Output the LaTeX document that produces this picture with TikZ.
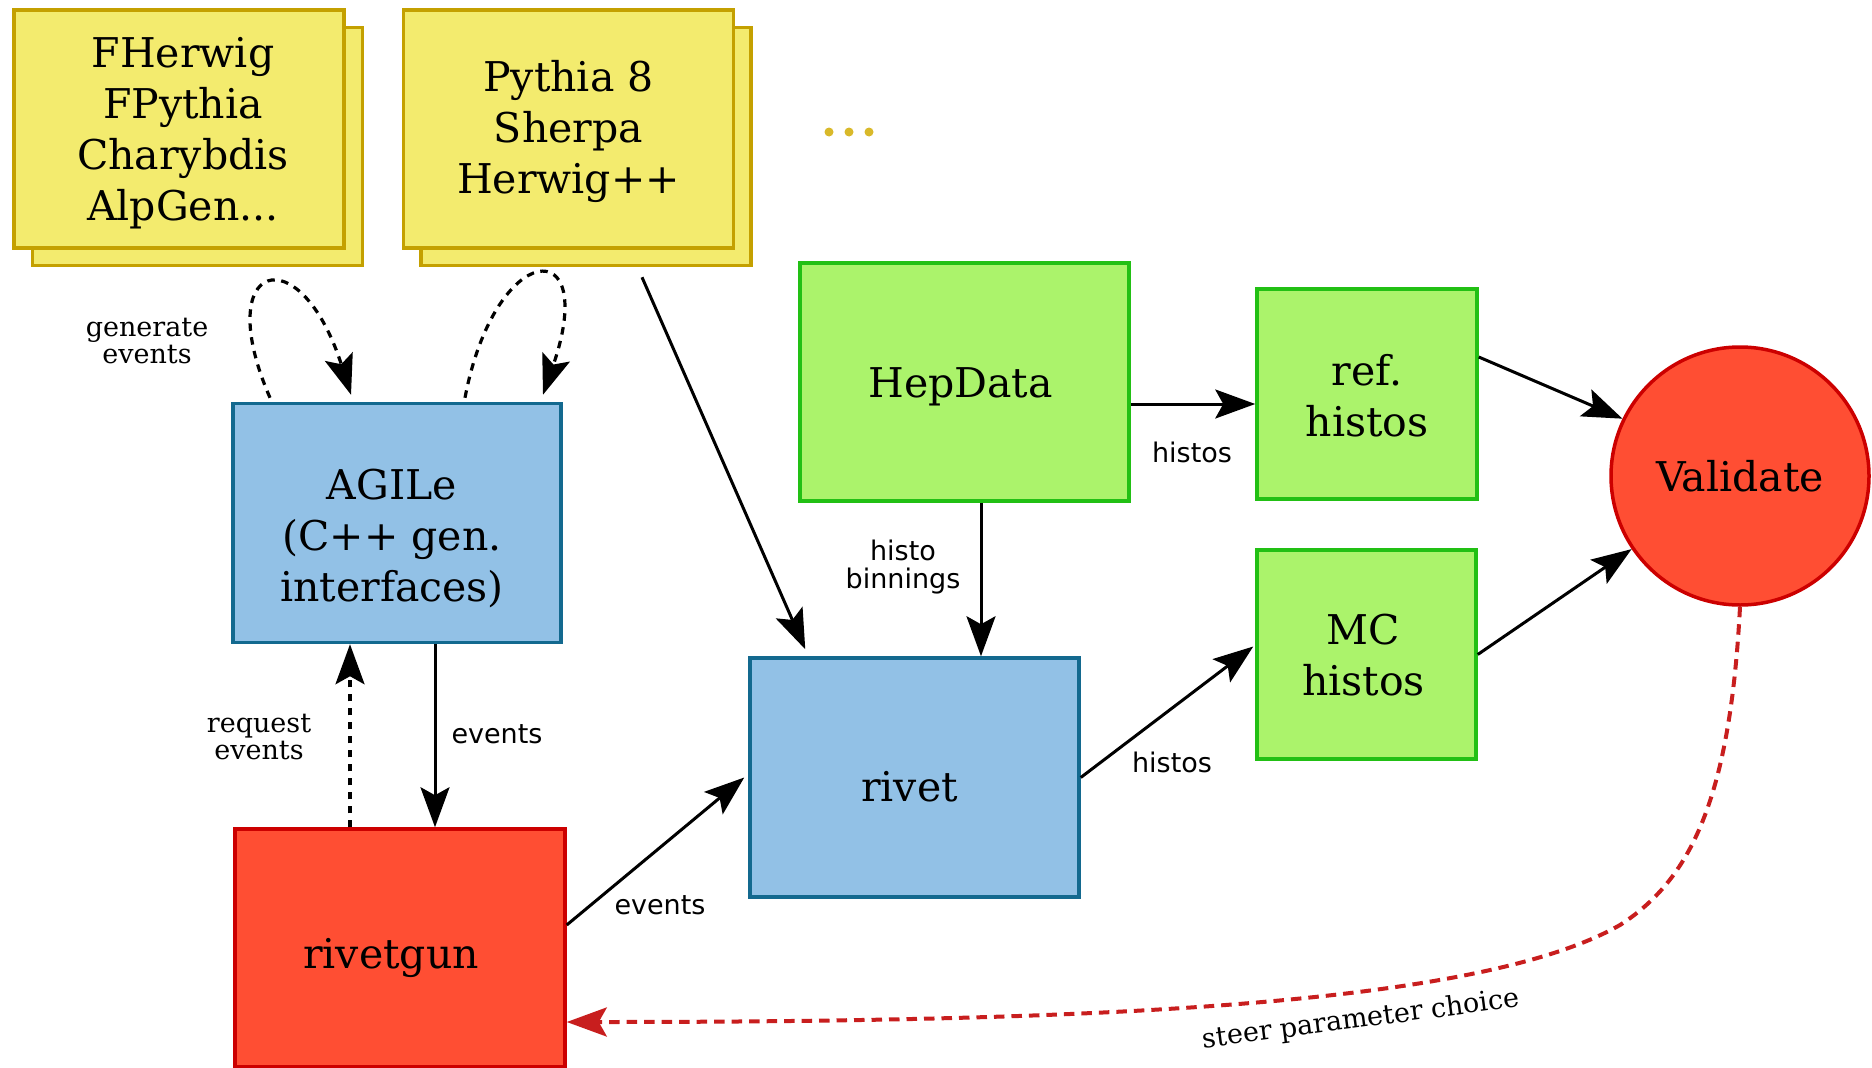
\documentclass[tikz,border=0pt]{standalone}
\usepackage{fontspec}
\setmainfont{DejaVu Serif}
\setsansfont{DejaVu Sans}
\usetikzlibrary{arrows.meta,calc}
\definecolor{yfill}{RGB}{243,235,110}
\definecolor{ydraw}{RGB}{196,160,0}
\definecolor{bfill}{RGB}{146,193,230}
\definecolor{bdraw}{RGB}{19,105,143}
\definecolor{gfill}{RGB}{171,243,107}
\definecolor{gdraw}{RGB}{34,192,20}
\definecolor{rfill}{RGB}{255,78,51}
\definecolor{rdraw}{RGB}{204,0,0}
\definecolor{steercol}{RGB}{200,30,30}
\definecolor{dotcol}{RGB}{217,185,42}
\tikzset{
  box/.style={rectangle, line width=3.5pt, inner sep=0pt},
  btext/.style={align=center, inner sep=0pt, font=\fontsize{41}{51}\selectfont},
  ybox/.style={box, fill=yfill, draw=ydraw, minimum width=330pt, minimum height=238pt},
  bbox/.style={box, fill=bfill, draw=bdraw, minimum width=329pt, minimum height=239pt},
  gbox/.style={box, fill=gfill, draw=gdraw},
  rbox/.style={box, fill=rfill, draw=rdraw, minimum width=330pt, minimum height=238pt},
  tipA/.style={-{Stealth[length=40pt,width=29pt,inset=8pt]}},
  arr/.style={tipA, line width=3pt},
  darr/.style={tipA, line width=3.2pt, dash pattern=on 7.5pt off 6.5pt},
  slab/.style={font=\sffamily\fontsize{27}{28}\selectfont, align=center, inner sep=0pt},
  rlab/.style={font=\fontsize{27}{27}\selectfont, align=center, inner sep=0pt},
}
\begin{document}
\begin{tikzpicture}[x=1pt,y=-1pt]
\useasboundingbox (0,0) rectangle (1872,1068);
% generator stacks
\node[ybox] (y1b) at (197.5,146.5) {};
\node[ybox] (y1) at (179,129) {};
\node[btext] (t1) at ($(y1)+(4,4)$) {FHerwig\\FPythia\\Charybdis\\AlpGen...};
\node[ybox] (y2b) at (586,146.5) {};
\node[ybox] (y2) at (568.5,129) {};
\node[btext] (t2) at ($(y2)+(0,2)$) {Pythia 8\\Sherpa\\Herwig++};
% dots
\fill[dotcol] (829,132) circle (4.5) (849,132) circle (4.5) (869,132) circle (4.5);
% main boxes
\node[bbox, minimum width=328pt] (agile) at (397,523) {};
\node[btext] (t3) at ($(agile)+(-5,15)$) {AGILe\\(C++ gen.\\interfaces)};
\node[rbox] (rivetgun) at (400,948) {};
\node[btext] (t4) at ($(rivetgun)+(-9,10)$) {rivetgun};
\node[bbox] (rivet) at (914.5,777.5) {};
\node[btext] (t5) at ($(rivet)+(-5,9)$) {rivet};
\node[gbox, minimum width=329pt, minimum height=238pt] (hep) at (964.5,382) {};
\node[btext] (t6) at ($(hep)+(-4,5)$) {HepData};
\node[gbox, minimum width=220pt, minimum height=210pt] (ref) at (1367,394) {};
\node[btext] (t7) at ($(ref)+(0,2)$) {ref.\\histos};
\node[gbox, minimum width=219pt, minimum height=209pt] (mc) at (1366.5,654.5) {};
\node[btext] (t8) at ($(mc)+(-3,1)$) {MC\\histos};
\node[circle, fill=rfill, draw=rdraw, line width=3.5pt, minimum size=258pt, inner sep=0pt,
      font=\fontsize{41}{51}\selectfont] (val) at (1740,476) {Validate};
% connectors
\draw[arr] ($(hep.east)+(0,22)$) -- ($(ref.west)+(0,10)$);
\draw[arr] ($(hep.south)+(16.5,0)$) -- ($(rivet.north)+(66.5,0)$);
\draw[arr] ($(y2b.south)+(56,10)$) -- ($(rivet.north west)+(57,-7)$);
\draw[arr] ($(ref.east)+(0,-37)$) -- (val.154);
\draw[arr] (mc.east) -- (val.214);
\draw[arr] (rivet.east) -- ($(mc.west)+(-2,-8)$);
\draw[arr] ($(rivetgun.east)+(0,-23)$) -- ($(rivet.west)+(-4,0)$);
\draw[arr] ($(agile.south)+(38,0)$) coordinate (a1) -- (a1 |- rivetgun.north);
\draw[darr] ($(rivetgun.north)+(-50,0)$) coordinate (a2) -- (a2 |- agile.south);
\draw[darr] ($(agile.north)+(-127,-4)$) .. controls (210,260) and (300,235) .. ($(agile.north)+(-46,-7)$);
\draw[darr] ($(agile.north)+(68,-4)$) .. controls (495,240) and (600,230) .. ($(agile.north)+(146,-7)$);
\draw[tipA, steercol, line width=4pt, dash pattern=on 10.5pt off 7pt]
  (val.south) .. controls (1730,800) and (1690,880) .. (1620,925)
  .. controls (1480,1005) and (1100,1022) .. ($(rivetgun.east)+(0,74)$);
% labels
\node[slab] (l1) at (1192,452) {histos};
\node[slab] (l2) at (903,567) {histo\\binnings};
\node[slab] (l3) at (1172,762) {histos};
\node[slab] (l4) at (660,905) {events};
\node[slab] (l5) at (497,734) {events};
\node[rlab] (l6) at (259,737) {request\\events};
\node[rlab] (l7) at (147,341) {generate\\events};
\node[rlab, rotate=7.5] (l8) at (1361,1020) {steer parameter choice};
\end{tikzpicture}
\end{document}
